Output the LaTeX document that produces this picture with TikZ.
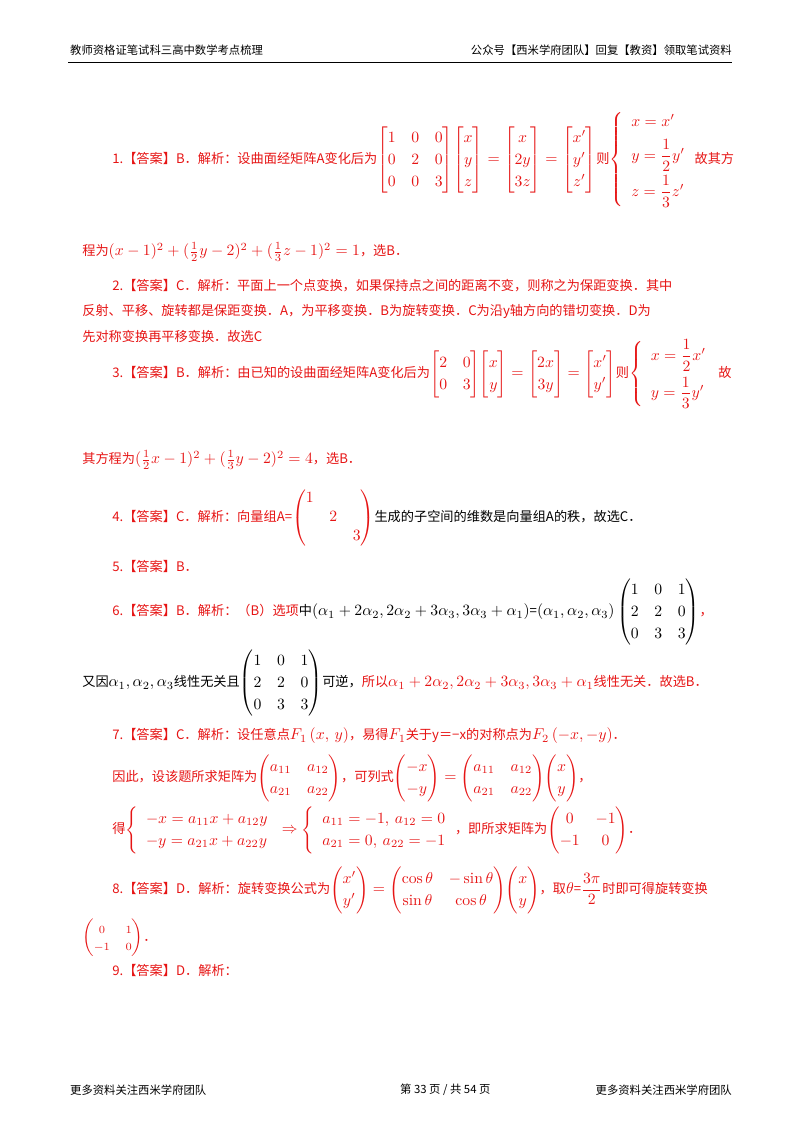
\documentclass[tikz,border=0pt]{standalone}
\usepackage{amsmath}
\usepackage{fontspec}
\newfontfamily\cjk[Scale=0.84]{Noto Sans CJK SC}
\definecolor{ans}{RGB}{230,20,20}
\renewcommand\arraystretch{1.15}
\begin{document}
\begin{tikzpicture}[x=1pt,y=-1pt,
  t/.style={anchor=west,inner sep=0pt,font=\cjk,scale=1.57,transform shape,text=ans},
  hd/.style={anchor=west,inner sep=0pt,font=\cjk\fontsize{13.5}{16}\selectfont}]
\useasboundingbox (0,0) rectangle (800,1132);
\node[hd] (h1) at (70,50) {教师资格证笔试科三高中数学考点梳理};
\node[hd,anchor=east] (h2) at (732,50) {公众号【西米学府团队】回复【教资】领取笔试资料};
\draw[line width=0.6pt] (68,62) -- (732,62);
\node[t] (a1) at (112,160) {1.【答案】B．解析：设曲面经矩阵A变化后为$\begin{bmatrix}1&0&0\\0&2&0\\0&0&3\end{bmatrix}\!\begin{bmatrix}x\\y\\z\end{bmatrix}=\begin{bmatrix}x\\2y\\3z\end{bmatrix}=\begin{bmatrix}x'\\y'\\z'\end{bmatrix}$则$\renewcommand\arraystretch{1}\left\{\begin{array}{l}x=x'\\[5pt]y=\dfrac12y'\\[6pt]z=\dfrac13z'\end{array}\right.$故其方};
\node[t] (a1b) at (82,252) {程为$(x-1)^2+(\frac12y-2)^2+(\frac13z-1)^2=1$，选B．};
\node[t] (a2) at (112,286) {2.【答案】C．解析：平面上一个点变换，如果保持点之间的距离不变，则称之为保距变换．其中};
\node[t] (a2b) at (82,311) {反射、平移、旋转都是保距变换．A，为平移变换．B为旋转变换．C为沿y轴方向的错切变换．D为};
\node[t] (a2c) at (82,336) {先对称变换再平移变换．故选C};
\node[t] (a3) at (112,374) {3.【答案】B．解析：由已知的设曲面经矩阵A变化后为$\begin{bmatrix}2&0\\0&3\end{bmatrix}\!\begin{bmatrix}x\\y\end{bmatrix}=\begin{bmatrix}2x\\3y\end{bmatrix}=\begin{bmatrix}x'\\y'\end{bmatrix}$则$\renewcommand\arraystretch{1}\left\{\begin{array}{l}x=\dfrac12x'\\[7pt]y=\dfrac13y'\end{array}\right.$ 故};
\node[t] (a3b) at (82,460) {其方程为$(\frac12x-1)^2+(\frac13y-2)^2=4$，选B．};
\node[t] (a4) at (112,518) {4.【答案】C．解析：向量组A=$\renewcommand\arraystretch{1}\begin{pmatrix}1&&\\&2&\\&&3\end{pmatrix}$\textcolor{black}{生成的子空间的维数是向量组A的秩，故选C．}};
\node[t] (a5) at (112,566) {5.【答案】B．};
\node[t] (a6) at (112,612) {6.【答案】B．解析：（B）选项\textcolor{black}{中$(\alpha_1+2\alpha_2,2\alpha_2+3\alpha_3,3\alpha_3+\alpha_1)$=$(\alpha_1,\alpha_2,\alpha_3)\begin{pmatrix}1&0&1\\2&2&0\\0&3&3\end{pmatrix}$}，};
\node[t] (a6b) at (82,683) {\textcolor{black}{又因$\alpha_1,\alpha_2,\alpha_3$线性无关且$\begin{pmatrix}1&0&1\\2&2&0\\0&3&3\end{pmatrix}$可逆，}所以$\alpha_1+2\alpha_2,2\alpha_2+3\alpha_3,3\alpha_3+\alpha_1$线性无关．故选B．};
\node[t] (a7) at (112,736) {7.【答案】C．解析：设任意点$F_1\left(x,\ y\right)$，易得$F_1$关于y＝−x的对称点为$F_2\left(-x,-y\right)$．};
\node[t] (a7b) at (112,778) {因此，设该题所求矩阵为$\begin{pmatrix}a_{11}&a_{12}\\a_{21}&a_{22}\end{pmatrix}$，可列式$\begin{pmatrix}-x\\-y\end{pmatrix}=\begin{pmatrix}a_{11}&a_{12}\\a_{21}&a_{22}\end{pmatrix}\!\begin{pmatrix}x\\y\end{pmatrix}$，};
\node[t] (a7c) at (112,830) {得$\left\{\begin{array}{l}-x=a_{11}x+a_{12}y\\-y=a_{21}x+a_{22}y\end{array}\right.\Rightarrow\left\{\begin{array}{l}a_{11}=-1,\ a_{12}=0\\a_{21}=0,\ a_{22}=-1\end{array}\right.$，即所求矩阵为$\begin{pmatrix}0&-1\\-1&0\end{pmatrix}$．};
\node[t] (a8) at (112,890) {8.【答案】D．解析：旋转变换公式为$\begin{pmatrix}x'\\y'\end{pmatrix}=\begin{pmatrix}\cos\theta&-\sin\theta\\\sin\theta&\cos\theta\end{pmatrix}\!\begin{pmatrix}x\\y\end{pmatrix}$，取$\theta$=$\dfrac{3\pi}{2}$时即可得旋转变换};
\node[t] (a8b) at (82,938) {$\left(\begin{array}{@{}cc@{}}\scriptstyle 0&\scriptstyle 1\\[-3pt]\scriptstyle -1&\scriptstyle 0\end{array}\right)$．};
\node[t] (a9) at (112,970) {9.【答案】D．解析：};
\node[hd] (f1) at (70,1090) {更多资料关注西米学府团队};
\node[hd] (f2) at (400,1090) {第 33 页 / 共 54 页};
\node[hd,anchor=east] (f3) at (732,1090) {更多资料关注西米学府团队};
\end{tikzpicture}
\end{document}
